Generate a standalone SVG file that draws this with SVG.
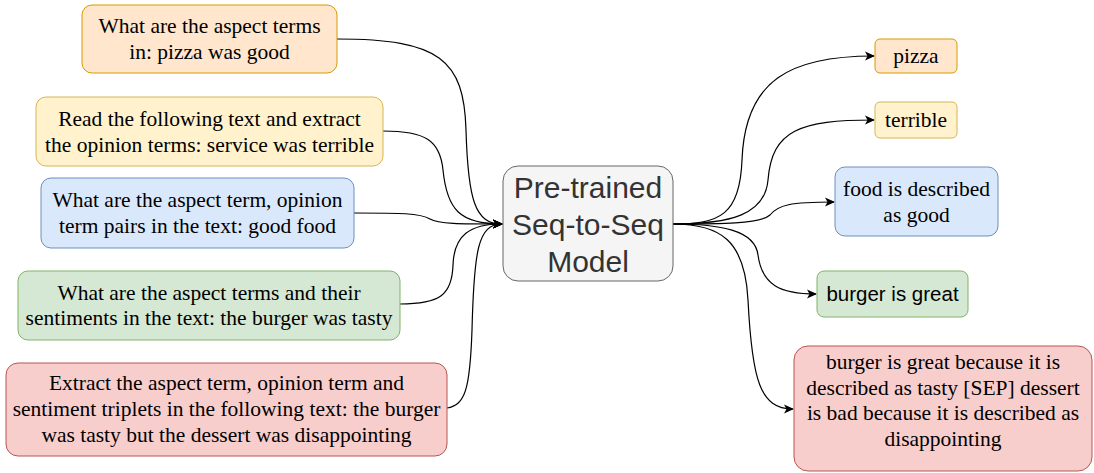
<svg xmlns="http://www.w3.org/2000/svg" width="1094" height="473" viewBox="0 0 1094 473">
<style>
.box{stroke-width:1}
.t{font-family:"Liberation Serif","Times New Roman",serif;font-size:21.5px;fill:#000;text-anchor:middle}
.s{font-family:"Liberation Sans",Arial,sans-serif;text-anchor:middle}
.orange{fill:#ffe6cc;stroke:#d79b00}
.yellow{fill:#fff2cc;stroke:#d6b656}
.blue{fill:#dae8fc;stroke:#6c8ebf}
.green{fill:#d5e8d4;stroke:#82b366}
.red{fill:#f8cecc;stroke:#b85450}
.gray{fill:#f5f5f5;stroke:#666666}
.edge{fill:none;stroke:#000;stroke-width:1.2;marker-end:url(#arr)}
</style>
<defs>
<marker id="arr" viewBox="0 0 10 10" refX="9" refY="5" markerWidth="10" markerHeight="10" markerUnits="userSpaceOnUse" orient="auto">
<path d="M0,0.5 L10,5 L0,9.5 L2.5,5 Z" fill="#000"/>
</marker>
</defs>
<rect width="1094" height="473" fill="#fff"/>
<g id="connectors">
<path class="edge" d="M337 39 C440 39 464 60 466 130 C468 200 475 224 502 224"/>
<path class="edge" d="M383 131 C425 131 440 140 443 170 C447 210 460 224 502 224"/>
<path class="edge" d="M354 213 C400 213 420 213 430 219 C438 224 460 224 502 224"/>
<path class="edge" d="M400 304 C440 304 452 295 453 265 C454 235 470 224 502 224"/>
<path class="edge" d="M447 408 C465 405 470 390 472 330 C474 250 478 224 502 224"/>
<path class="edge" d="M673 224 C720 224 740 215 742 160 C745 80 790 56 874 56"/>
<path class="edge" d="M673 224 C730 224 765 215 768 180 C772 130 800 120 874 120"/>
<path class="edge" d="M673 224 C720 224 760 224 770 215 C778 205 790 202 834 202"/>
<path class="edge" d="M673 224 C720 224 755 230 758 255 C762 285 780 294 816 294"/>
<path class="edge" d="M673 224 C720 224 745 240 748 300 C752 380 760 409 793 409"/>
</g>
<g id="in1"><rect class="orange" x="82" y="5" width="255" height="68" rx="10"/>
<text class="t" x="209.5" y="33">What are the aspect terms</text><text class="t" x="209.5" y="59">in: pizza was good</text></g>
<g id="in2"><rect class="yellow" x="36" y="97" width="347" height="69" rx="10"/>
<text class="t" x="209.5" y="126">Read the following text and extract</text><text class="t" x="209.5" y="152">the opinion terms: service was terrible</text></g>
<g id="in3"><rect class="blue" x="41" y="178" width="313" height="70" rx="10"/>
<text class="t" x="197.5" y="207">What are the aspect term, opinion</text><text class="t" x="197.5" y="233">term pairs in the text: good food</text></g>
<g id="in4"><rect class="green" x="18" y="271" width="382" height="69" rx="10"/>
<text class="t" x="209" y="300">What are the aspect terms and their</text><text class="t" x="209" y="325">sentiments in the text: the burger was tasty</text></g>
<g id="in5"><rect class="red" x="6" y="363" width="441" height="93" rx="12"/>
<text class="t" x="226.5" y="390">Extract the aspect term, opinion term and</text><text class="t" x="226.5" y="416">sentiment triplets in the following text: the burger</text><text class="t" x="226.5" y="442">was tasty but the dessert was disappointing</text></g>
<g id="model"><rect class="gray" x="503" y="166" width="170" height="115" rx="15"/>
<text class="s" x="588" y="198" font-size="30" fill="#333">Pre-trained</text><text class="s" x="588" y="235" font-size="30" fill="#333">Seq-to-Seq</text><text class="s" x="588" y="272" font-size="30" fill="#333">Model</text></g>
<g id="out1"><rect class="orange" x="875" y="39" width="82" height="34" rx="5"/><text class="t" x="916" y="63">pizza</text></g>
<g id="out2"><rect class="yellow" x="875" y="102" width="82" height="36" rx="5"/><text class="t" x="916" y="127">terrible</text></g>
<g id="out3"><rect class="blue" x="835" y="167" width="163" height="69" rx="10"/>
<text class="t" x="916.5" y="196">food is described</text><text class="t" x="916.5" y="222">as good</text></g>
<g id="out4"><rect class="green" x="817" y="271" width="151" height="46" rx="7"/><text class="s" x="892.5" y="301" font-size="20.5" fill="#000">burger is great</text></g>
<g id="out5"><rect class="red" x="794" y="346" width="298" height="125" rx="14"/>
<text class="t" x="943" y="369">burger is great because it is</text><text class="t" x="943" y="394.5">described as tasty [SEP] dessert</text><text class="t" x="943" y="420">is bad because it is described as</text><text class="t" x="943" y="445.5">disappointing</text></g>
</svg>
